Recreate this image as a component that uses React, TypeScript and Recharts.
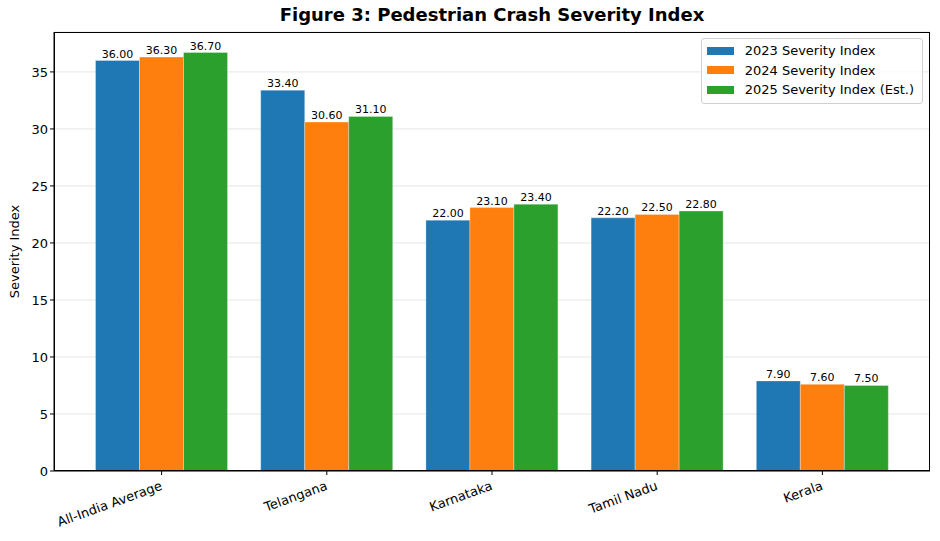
import { BarChart, Bar, XAxis, YAxis, CartesianGrid, LabelList } from 'recharts';

const categories = ['All-India Average', 'Telangana', 'Karnataka', 'Tamil Nadu', 'Kerala'];
const index2023 = [36.0, 33.4, 22.0, 22.2, 7.9];
const index2024 = [36.3, 30.6, 23.1, 22.5, 7.6];
const index2025 = [36.7, 31.1, 23.4, 22.8, 7.5];
const yTicks = [0, 5, 10, 15, 20, 25, 30, 35];

const SERIES = [
  { key: 'y2023', label: '2023 Severity Index', color: '#1f77b4' },
  { key: 'y2024', label: '2024 Severity Index', color: '#ff7f0e' },
  { key: 'y2025', label: '2025 Severity Index (Est.)', color: '#2ca02c' },
];

const data = categories.map((name, i) => ({
  name,
  y2023: index2023[i],
  y2024: index2024[i],
  y2025: index2025[i],
}));

const FONT = '"DejaVu Sans", sans-serif';

function RotatedTick({ x, y, payload }: { x?: number; y?: number; payload?: { value: string } }) {
  return (
    <g transform={`translate(${(x ?? 0) - 2},${(y ?? 0) + 3})`}>
      <text
        transform="rotate(-20)"
        textAnchor="end"
        dy="0.75em"
        fontSize={13}
        fontFamily={FONT}
        fill="#000"
      >
        {payload?.value}
      </text>
    </g>
  );
}

function LegendBox() {
  return (
    <div
      style={{
        position: 'absolute',
        top: 38,
        right: 17,
        border: '1px solid #d0d0d0',
        borderRadius: 3,
        background: 'rgba(255,255,255,0.8)',
        padding: '2px 8px 3px 5px',
        fontFamily: FONT,
        fontSize: 13,
        color: '#000',
      }}
    >
      {SERIES.map((s) => (
        <div key={s.key} style={{ display: 'flex', alignItems: 'center', height: 19.5 }}>
          <span style={{ display: 'inline-block', width: 27, height: 8, background: s.color, marginRight: 11 }} />
          <span>{s.label}</span>
        </div>
      ))}
    </div>
  );
}

export default function App() {
  return (
    <div style={{ position: 'absolute', left: 0, top: 0, width: 940, height: 541, background: '#fff' }}>
      <div
        style={{
          position: 'absolute',
          left: 54,
          width: 876,
          top: 4,
          textAlign: 'center',
          fontFamily: FONT,
          fontWeight: 'bold',
          fontSize: 18,
          color: '#000',
        }}
      >
        Figure 3: Pedestrian Crash Severity Index
      </div>
      <BarChart
        width={940}
        height={541}
        data={data}
        margin={{ top: 32, right: 10, bottom: 0, left: 0 }}
        barCategoryGap="10%"
        barGap={0}
      >
        <CartesianGrid vertical={false} stroke="#e6e6e6" />
        <XAxis
          dataKey="name"
          height={70}
          padding={{ left: 25, right: 25 }}
          tick={<RotatedTick />}
          tickLine={{ stroke: '#000' }}
          tickSize={4}
          axisLine={{ stroke: '#000' }}
          interval={0}
        />
        <YAxis
          width={54}
          domain={[0, 38.5]}
          ticks={yTicks}
          tickSize={4}
          tickLine={{ stroke: '#000' }}
          axisLine={{ stroke: '#000' }}
          tick={{ fontSize: 13, fontFamily: FONT, fill: '#000' }}
          label={{
            value: 'Severity Index',
            angle: -90,
            position: 'insideLeft',
            offset: 14,
            style: { fontSize: 13, fontFamily: FONT, fill: '#000', textAnchor: 'middle' },
          }}
        />
        {SERIES.map((s) => (
          <Bar
            key={s.key}
            dataKey={s.key}
            name={s.label}
            fill={s.color}
            stroke="rgba(255,255,255,0.5)"
            strokeWidth={0.6}
            isAnimationActive={false}
          >
            <LabelList
              dataKey={s.key}
              position="top"
              offset={3}
              formatter={(v: number) => v.toFixed(2)}
              style={{ fontSize: 11, fontFamily: FONT, fill: '#000' }}
            />
          </Bar>
        ))}
      </BarChart>
      {/* plot frame (top/right spines) */}
      <div
        style={{
          position: 'absolute',
          left: 54,
          top: 32,
          width: 876,
          height: 439,
          border: '1px solid #000',
          boxSizing: 'border-box',
          pointerEvents: 'none',
        }}
      />
      <LegendBox />
    </div>
  );
}
